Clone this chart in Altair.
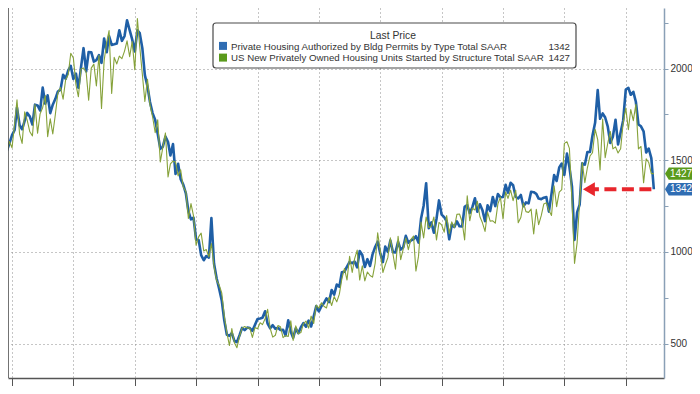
import altair as alt
import pandas as pd

# Monthly values, thousands of units SAAR, Oct 2001 .. Nov 2022
permits = [
    1551, 1592, 1637,                                                  # 2001 Oct-Dec
    1665, 1787, 1691, 1669, 1716, 1758, 1738, 1695, 1803, 1799, 1771, 1896,  # 2002
    1808, 1854, 1757, 1803, 1835, 1875, 1885, 1966, 1944, 1990, 2014, 1943,  # 2003
    1972, 1895, 2006, 2111, 1984, 2090, 2089, 2038, 2046, 2073, 2031, 2164,  # 2004
    2089, 2177, 2129, 2132, 2136, 2209, 2151, 2177, 2263, 2209, 2159, 2093,  # 2005
    2209, 2193, 2111, 1964, 1903, 1818, 1757, 1720, 1644, 1562, 1574, 1629,  # 2006
    1599, 1526, 1588, 1426, 1481, 1397, 1367, 1320, 1222, 1178, 1187, 1068,  # 2007
    1064, 983, 955, 978, 969, 1185, 937, 857, 800, 736, 628, 549,            # 2008
    543, 558, 515, 509, 546, 586, 574, 588, 585, 570, 602, 635,              # 2009
    637, 641, 677, 609, 584, 601, 581, 587, 575, 576, 545, 627,              # 2010
    565, 532, 584, 557, 590, 612, 593, 626, 594, 649, 705, 676,              # 2011
    704, 721, 747, 727, 793, 767, 822, 811, 890, 893, 920, 946,              # 2012
    939, 948, 916, 1005, 984, 918, 961, 924, 987, 1027, 1056, 992,           # 2013
    945, 1029, 1000, 1063, 999, 998, 1055, 1013, 1025, 1088, 1050, 1063,     # 2014
    1069, 1086, 1051, 1181, 1252, 1375, 1130, 1161, 1105, 1180, 1281, 1204,  # 2015
    1190, 1167, 1069, 1150, 1136, 1167, 1140, 1139, 1246, 1256, 1212, 1244,  # 2016
    1293, 1219, 1260, 1228, 1168, 1254, 1223, 1300, 1250, 1316, 1298, 1300,  # 2017
    1366, 1323, 1377, 1364, 1301, 1292, 1311, 1249, 1270, 1265, 1328, 1326,  # 2018
    1317, 1291, 1288, 1296, 1299, 1220, 1317, 1419, 1387, 1461, 1482, 1420,  # 2019
    1536, 1464, 1356, 1066, 1216, 1258, 1483, 1476, 1545, 1545, 1635, 1704,  # 2020
    1883, 1726, 1755, 1733, 1683, 1594, 1630, 1721, 1586, 1653, 1717, 1885,  # 2021
    1895, 1857, 1873, 1819, 1695, 1685, 1658, 1542, 1564, 1512, 1342,        # 2022
]
starts = [
    1540, 1602, 1568,                                                  # 2001 Oct-Dec
    1698, 1829, 1642, 1592, 1764, 1717, 1655, 1633, 1804, 1648, 1753, 1788,  # 2002
    1853, 1629, 1726, 1643, 1751, 1867, 1897, 1833, 1939, 1967, 2083, 2057,  # 2003
    1911, 1846, 1998, 2003, 1981, 1828, 2002, 2024, 1905, 2072, 1782, 2042,  # 2004
    2144, 2207, 1864, 2061, 2025, 2068, 2054, 2095, 2151, 2065, 2147, 1994,  # 2005
    2273, 2119, 1969, 1821, 1942, 1802, 1737, 1650, 1720, 1491, 1570, 1649,  # 2006
    1409, 1480, 1495, 1490, 1415, 1448, 1354, 1330, 1183, 1264, 1197, 1037,  # 2007
    1084, 1103, 1005, 1013, 973, 1046, 923, 844, 820, 777, 652, 560,         # 2008
    490, 582, 505, 478, 540, 585, 594, 586, 585, 534, 588, 581,              # 2009
    614, 604, 636, 687, 583, 536, 546, 599, 592, 533, 545, 539,              # 2010
    625, 518, 597, 554, 561, 608, 623, 585, 650, 610, 711, 694,              # 2011
    723, 704, 695, 753, 708, 757, 728, 770, 854, 911, 847, 976,              # 2012
    888, 962, 1010, 847, 925, 842, 891, 872, 863, 938, 1105, 1006,           # 2013
    888, 929, 969, 1077, 989, 906, 1085, 958, 1016, 1076, 1013, 1069,        # 2014
    1087, 896, 976, 1163, 1077, 1191, 1133, 1140, 1191, 1065, 1161, 1148,    # 2015
    1108, 1199, 1100, 1164, 1134, 1205, 1207, 1165, 1066, 1306, 1170, 1239,  # 2016
    1229, 1277, 1192, 1159, 1112, 1217, 1168, 1170, 1157, 1262, 1299, 1180,  # 2017
    1327, 1292, 1337, 1280, 1336, 1159, 1188, 1266, 1220, 1216, 1234, 1098,  # 2018
    1233, 1149, 1198, 1261, 1268, 1227, 1199, 1361, 1247, 1326, 1340, 1592,  # 2019
    1601, 1565, 1274, 938, 1051, 1275, 1487, 1378, 1459, 1523, 1541, 1669,   # 2020
    1613, 1447, 1725, 1514, 1594, 1657, 1562, 1573, 1540, 1563, 1703, 1784,  # 2021
    1666, 1777, 1716, 1805, 1562, 1575, 1377, 1508, 1488, 1427, 1427,        # 2022
]

series_names = [
    "Private Housing Authorized by Bldg Permits by Type Total SAAR",
    "US New Privately Owned Housing Units Started by Structure Total SAAR",
]
last_values = [1342, 1427]
legend_colors = ["#2f6db3", "#5a9a1c"]
line_colors = ["#1f5fa6", "#86a23a"]
y_ticks = [500, 750, 1000, 1250, 1500, 1750, 2000, 2250]
x_tick_years = list(range(2002, 2024))

X_START, X_END = "2001-11-13", "2023-03-31"
Y_MIN, Y_MAX = 313, 2330
W, H = 656, 370

dates = pd.date_range("2001-11-01", periods=len(permits), freq="MS") - pd.Timedelta(days=1)
df = pd.concat([
    pd.DataFrame({"date": dates, "value": permits, "series": series_names[0]}),
    pd.DataFrame({"date": dates, "value": starts, "series": series_names[1]}),
])

FONT = "Liberation Sans"

xscale = alt.Scale(domain=[X_START, X_END])
yscale = alt.Scale(domain=[Y_MIN, Y_MAX], nice=False, zero=False)

x_axis = alt.Axis(
    title=None, labels=False,
    values=[alt.DateTime(year=y, month=1, date=1) for y in x_tick_years],
    grid=True, gridColor="#8c8c8c", gridDash=[1, 3], gridWidth=1,
    gridOpacity={"condition": {"test": "year(datum.value) % 2 == 0", "value": 1}, "value": 0},
    domainColor="#555555", domainWidth=1.5, tickColor="#555555", tickSize=12,
)
y_axis = alt.Axis(
    title=None, orient="right", values=y_ticks, format="d",
    labelExpr="datum.value % 500 == 0 ? datum.label : ''",
    labelFont=FONT, labelFontSize=10, labelColor="#333333", labelPadding=2,
    grid=True, gridColor="#8c8c8c", gridDash=[1, 3], gridWidth=1,
    gridOpacity={"condition": {"test": "datum.value % 500 == 0", "value": 1}, "value": 0},
    domainColor="#8aa0b6", domainWidth=1.5, tickColor="#8aa0b6", tickSize=4,
)

base = alt.Chart(df)

blue = base.transform_filter(alt.datum.series == series_names[0]).mark_line(
    clip=True, strokeWidth=2.6, strokeJoin="round", color=line_colors[0]
).encode(
    x=alt.X("date:T", scale=xscale, axis=x_axis),
    y=alt.Y("value:Q", scale=yscale, axis=y_axis),
)
green = base.transform_filter(alt.datum.series == series_names[1]).mark_line(
    clip=True, strokeWidth=1.1, strokeJoin="round", color=line_colors[1]
).encode(
    x=alt.X("date:T", scale=xscale),
    y=alt.Y("value:Q", scale=yscale),
)

left_border = alt.Chart(pd.DataFrame({"date": [X_START]})).mark_rule(
    color="#444444", strokeWidth=1.5
).encode(x=alt.X("date:T", scale=xscale))

# red dashed arrow at the latest permits level
arrow_df = pd.DataFrame({"date": ["2022-11-01"], "date2": ["2020-11-22"], "value": [last_values[0]]})
arrow_line = alt.Chart(arrow_df).mark_rule(
    color="#e8262c", strokeWidth=4, strokeDash=[12, 5.5]
).encode(
    x=alt.X("date:T", scale=xscale), x2="date2:T",
    y=alt.Y("value:Q", scale=yscale),
)
head_df = pd.DataFrame({"date": ["2020-10-18"], "value": [last_values[0]]})
arrow_head = alt.Chart(head_df).mark_point(
    shape="triangle-left", filled=True, size=190, color="#e8262c", opacity=1
).encode(
    x=alt.X("date:T", scale=xscale),
    y=alt.Y("value:Q", scale=yscale),
)

# last value tags on the right axis
tag_df = pd.DataFrame({
    "value": [last_values[1], last_values[0]],
    "label": [str(last_values[1]), str(last_values[0])],
    "fill": [legend_colors[1], legend_colors[0]],
})
tag_shape = "M-1,0L-0.72,-0.46L1,-0.46L1,0.46L-0.72,0.46Z"
tags = alt.Chart(tag_df).mark_point(
    shape=tag_shape, filled=True, size=729, opacity=1, strokeWidth=0
).encode(
    x=alt.value(W + 14.5),
    y=alt.Y("value:Q", scale=yscale),
    fill=alt.Fill("fill:N", scale=None),
)
tag_text = alt.Chart(tag_df).mark_text(
    color="white", font=FONT, fontSize=10, align="center", baseline="middle"
).encode(
    x=alt.value(W + 17),
    y=alt.Y("value:Q", scale=yscale),
    text="label:N",
)

# legend box
one = alt.Data(values=[{}])
box = alt.Chart(one).mark_rect(
    fill="white", stroke="#4a4a4a", strokeWidth=1.2, cornerRadius=3
).encode(x=alt.value(205), x2=alt.value(568), y=alt.value(15), y2=alt.value(60))
title_txt = alt.Chart(one).mark_text(
    text="Last Price", font=FONT, fontSize=10.3, color="#333333", align="center", baseline="alphabetic"
).encode(x=alt.value(385), y=alt.value(30.5))

leg_df = pd.DataFrame({
    "name": series_names,
    "val": [str(v) for v in last_values],
    "col": legend_colors,
})
leg_layers = []
for i in range(2):
    d = leg_df.iloc[[i]]
    yb = 41.5 + 11.7 * i
    leg_layers.append(alt.Chart(d).mark_square(size=64, opacity=1, filled=True).encode(
        x=alt.value(215), y=alt.value(yb - 3.6), fill=alt.Fill("col:N", scale=None)))
    leg_layers.append(alt.Chart(d).mark_text(
        font=FONT, fontSize=9.7, color="#333333", align="left", baseline="alphabetic"
    ).encode(x=alt.value(223), y=alt.value(yb), text="name:N"))
    leg_layers.append(alt.Chart(d).mark_text(
        font=FONT, fontSize=9.7, color="#333333", align="right", baseline="alphabetic"
    ).encode(x=alt.value(562), y=alt.value(yb), text="val:N"))

chart = alt.layer(
    blue, green, left_border, arrow_line, arrow_head, tags, tag_text, box, title_txt, *leg_layers
).properties(
    width=W, height=H, autosize=alt.AutoSizeParams(type="none"),
    padding={"left": 0, "top": 0, "right": 28, "bottom": 8},
    background="white",
).configure_view(strokeWidth=0)

chart.save("out.html", embed_options={"renderer": "svg", "actions": False})
